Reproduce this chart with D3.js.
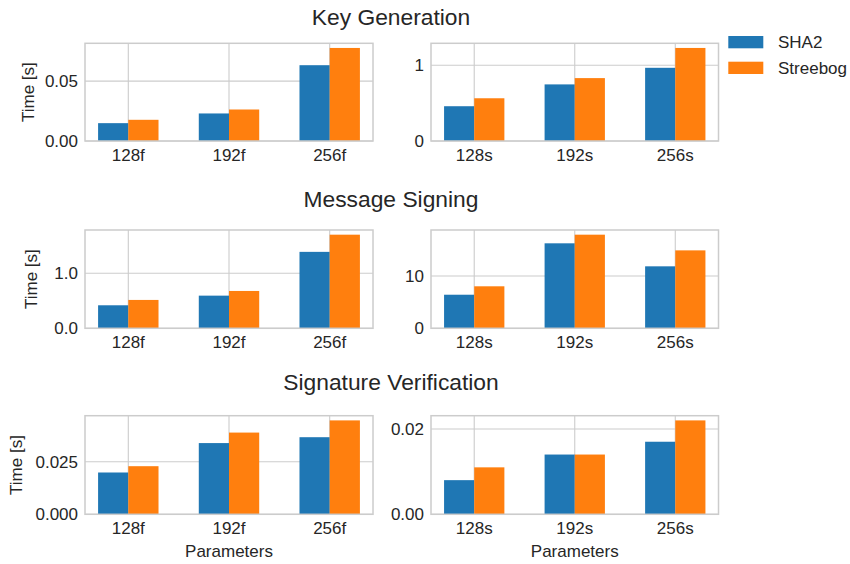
<!DOCTYPE html>
<html>
<head>
<meta charset="utf-8">
<script src="https://cdn.jsdelivr.net/npm/d3@7"></script>
<style>
  html, body { margin: 0; padding: 0; background: #fff; }
  svg text { font-family: "Liberation Sans", Arial, sans-serif; fill: #262626; }
</style>
</head>
<body>
<svg id="chart" width="850" height="564"></svg>
<script>
// ---- data ----
const seriesNames = ["SHA2", "Streebog"];
const seriesColors = ["#1f77b4", "#ff7f0e"];
const fastCats = ["128f", "192f", "256f"];
const smallCats = ["128s", "192s", "256s"];
const rowTitles = ["Key Generation", "Message Signing", "Signature Verification"];

const keygenF_SHA2 = [0.0149, 0.0230, 0.0633];
const keygenF_Streebog = [0.0177, 0.0263, 0.0777];
const keygenS_SHA2 = [0.459, 0.747, 0.966];
const keygenS_Streebog = [0.564, 0.830, 1.228];

const signF_SHA2 = [0.418, 0.593, 1.388];
const signF_Streebog = [0.515, 0.678, 1.700];
const signS_SHA2 = [6.42, 16.25, 11.85];
const signS_Streebog = [8.03, 17.9, 14.9];

const verifyF_SHA2 = [0.0199, 0.0339, 0.0367];
const verifyF_Streebog = [0.0229, 0.0389, 0.0447];
const verifyS_SHA2 = [0.008, 0.014, 0.017];
const verifyS_Streebog = [0.011, 0.014, 0.022];

const ticksKeygenF = [0, 0.05];
const ticksKeygenS = [0, 1];
const ticksSignF = [0, 1.0];
const ticksSignS = [0, 10];
const ticksVerifyF = [0, 0.025];
const ticksVerifyS = [0, 0.02];

const tickFmtKeygenF = d3.format(".2f");
const tickFmtKeygenS = d3.format(".0f");
const tickFmtSignF = d3.format(".1f");
const tickFmtSignS = d3.format(".0f");
const tickFmtVerifyF = d3.format(".3f");
const tickFmtVerifyS = d3.format(".2f");

// ---- layout ----
const svg = d3.select("#chart");
const colX = [[85, 373], [431, 718.5]];
const rowY = [[43.3, 141], [230, 328.3], [415.7, 514.3]];
const titleBaselines = [25, 207.3, 390];
const ylabelX = [33.5, 37, 22];
const barW = 0.3;

const panels = [
  {row: 0, col: 0, cats: fastCats, a: keygenF_SHA2, b: keygenF_Streebog, ticks: ticksKeygenF, fmt: tickFmtKeygenF},
  {row: 0, col: 1, cats: smallCats, a: keygenS_SHA2, b: keygenS_Streebog, ticks: ticksKeygenS, fmt: tickFmtKeygenS},
  {row: 1, col: 0, cats: fastCats, a: signF_SHA2, b: signF_Streebog, ticks: ticksSignF, fmt: tickFmtSignF},
  {row: 1, col: 1, cats: smallCats, a: signS_SHA2, b: signS_Streebog, ticks: ticksSignS, fmt: tickFmtSignS},
  {row: 2, col: 0, cats: fastCats, a: verifyF_SHA2, b: verifyF_Streebog, ticks: ticksVerifyF, fmt: tickFmtVerifyF},
  {row: 2, col: 1, cats: smallCats, a: verifyS_SHA2, b: verifyS_Streebog, ticks: ticksVerifyS, fmt: tickFmtVerifyS},
];

const gridColor = "#cccccc";

panels.forEach(p => {
  const [x0, x1] = colX[p.col];
  const [yTop, yBot] = rowY[p.row];
  const n = p.cats.length;
  const lo = -barW, hi = (n - 1) + barW;
  const pad = (hi - lo) * 0.05;
  const x = d3.scaleLinear().domain([lo - pad, hi + pad]).range([x0, x1]);
  const ymax = d3.max(p.a.concat(p.b)) * 1.05;
  const y = d3.scaleLinear().domain([0, ymax]).range([yBot, yTop]);

  const g = svg.append("g");

  // grid
  g.append("g").selectAll("line.h").data(p.ticks).join("line")
    .attr("x1", x0).attr("x2", x1)
    .attr("y1", d => y(d)).attr("y2", d => y(d))
    .attr("stroke", gridColor).attr("stroke-width", 1.1);
  g.append("g").selectAll("line.v").data(d3.range(n)).join("line")
    .attr("x1", d => x(d)).attr("x2", d => x(d))
    .attr("y1", yTop).attr("y2", yBot)
    .attr("stroke", gridColor).attr("stroke-width", 1.1);

  // bars
  const series = [p.a, p.b];
  series.forEach((vals, si) => {
    g.append("g").selectAll("rect").data(vals).join("rect")
      .attr("x", (d, i) => x(i + (si === 0 ? -barW : 0)))
      .attr("width", (d, i) => x(i + barW) - x(i))
      .attr("y", d => y(d))
      .attr("height", d => yBot - y(d))
      .attr("fill", seriesColors[si]);
  });

  // frame
  g.append("rect")
    .attr("x", x0).attr("y", yTop)
    .attr("width", x1 - x0).attr("height", yBot - yTop)
    .attr("fill", "none").attr("stroke", gridColor).attr("stroke-width", 1.5);

  // y tick labels
  g.append("g").selectAll("text").data(p.ticks).join("text")
    .attr("x", x0 - 7).attr("y", d => y(d))
    .attr("dy", "0.35em")
    .attr("text-anchor", "end")
    .attr("font-size", 17)
    .text(d => p.fmt(d));

  // x tick labels
  g.append("g").selectAll("text").data(p.cats).join("text")
    .attr("x", (d, i) => x(i)).attr("y", yBot + 20)
    .attr("text-anchor", "middle")
    .attr("font-size", 17)
    .text(d => d);

  if (p.col === 0) {
    g.append("text")
      .attr("transform", `translate(${ylabelX[p.row]},${(yTop + yBot) / 2}) rotate(-90)`)
      .attr("text-anchor", "middle")
      .attr("font-size", 17)
      .text("Time [s]");
  }
  if (p.row === 2) {
    g.append("text")
      .attr("x", (x0 + x1) / 2).attr("y", 557)
      .attr("text-anchor", "middle")
      .attr("font-size", 17)
      .text("Parameters");
  }
});

// row titles
svg.append("g").selectAll("text").data(rowTitles).join("text")
  .attr("x", 391).attr("y", (d, i) => titleBaselines[i])
  .attr("text-anchor", "middle")
  .attr("font-size", 22.8)
  .text(d => d);

// legend
const leg = svg.append("g");
leg.selectAll("rect").data(seriesNames).join("rect")
  .attr("x", 728.3).attr("y", (d, i) => 36 + i * 25.7)
  .attr("width", 35).attr("height", 12.3)
  .attr("fill", (d, i) => seriesColors[i]);
leg.selectAll("text").data(seriesNames).join("text")
  .attr("x", 778).attr("y", (d, i) => 42.2 + i * 25.7)
  .attr("dy", "0.35em")
  .attr("font-size", 17)
  .text(d => d);
</script>
</body>
</html>
